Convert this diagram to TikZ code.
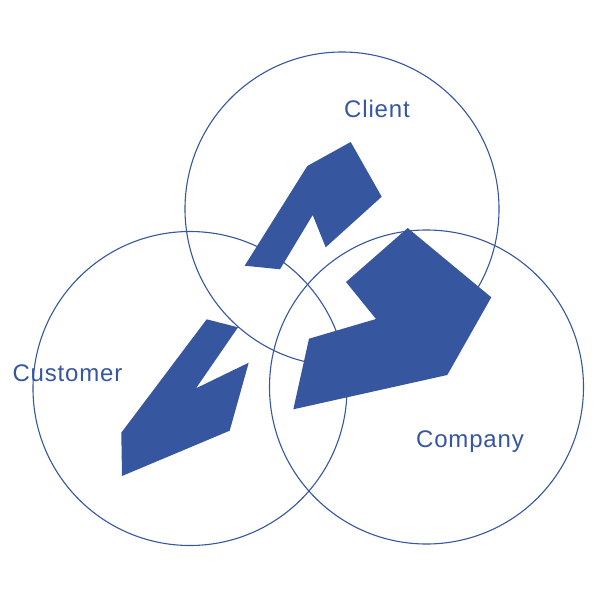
\documentclass[tikz,border=0pt]{standalone}
\usepackage{xcolor}
\usepackage{fontspec}
\setmainfont{Liberation Sans}[LetterSpace=3.5]
\usepackage{tikz}

\definecolor{bleu}{RGB}{54,86,160}

\begin{document}
\begin{tikzpicture}[x=1pt, y=-1pt]
    \useasboundingbox (0,0) rectangle (600,600);

    % Cercles
    \draw[draw=bleu, line width=1.1pt] (342,209) circle (157);
    \draw[draw=bleu, line width=1.1pt] (190,388.5) circle (157);
    \draw[draw=bleu, line width=1.1pt] (426.5,387) circle (157);

    % Fleche Client
    \fill[bleu] (350.7,142) -- (381.7,196.7) -- (325.7,247.3) -- (312.7,215) -- (280,269.3) -- (244.7,265.7) -- (307.3,166) -- cycle;

    % Fleche Company
    \fill[bleu] (407.7,228) -- (491.3,297.3) -- (447.3,375) -- (293.3,409.3) -- (309,338.7) -- (376,319) -- (346,282) -- cycle;

    % Fleche Customer
    \fill[bleu] (206.7,319.3) -- (238,327.3) -- (196,388.3) -- (248.7,362.7) -- (229.7,430.7) -- (122,476) -- (121.3,432.7) -- cycle;

    % Textes
    \node[anchor=base, inner sep=0pt, text=bleu] (client) at (377,117.5) {\fontsize{24}{24}\selectfont Client};
    \node[anchor=base, inner sep=0pt, text=bleu] (customer) at (67.5,381) {\fontsize{24}{24}\selectfont Customer};
    \node[anchor=base, inner sep=0pt, text=bleu] (company) at (470,447.5) {\fontsize{24}{24}\selectfont Company};
\end{tikzpicture}
\end{document}
